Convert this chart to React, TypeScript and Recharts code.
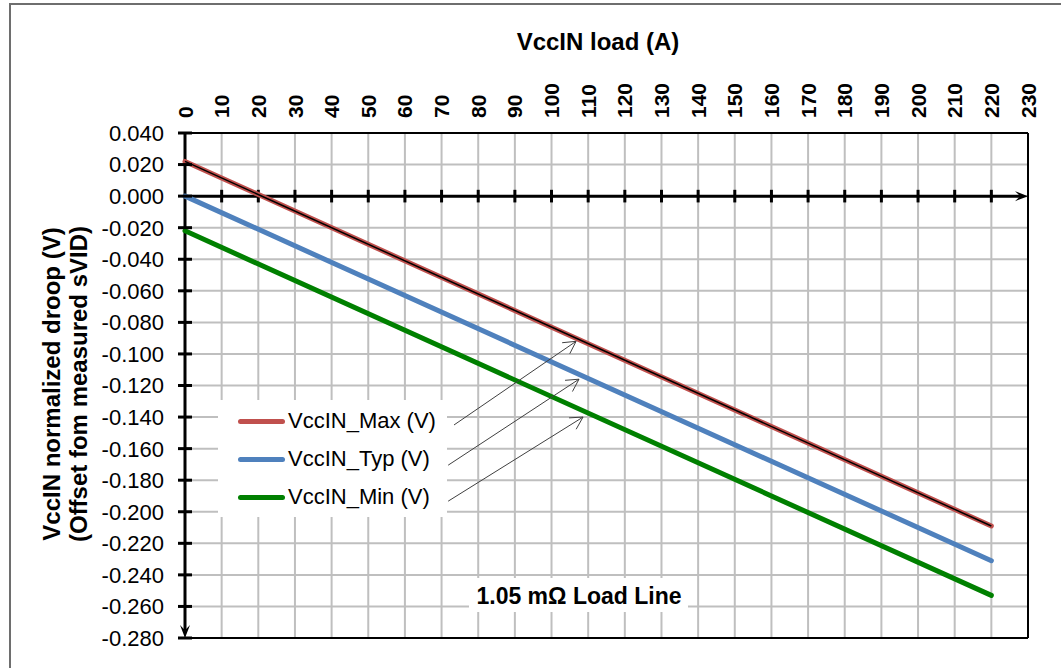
import { LineChart, Line, XAxis, YAxis, CartesianGrid, ReferenceLine, Legend } from "recharts";

const FONT = '"Liberation Sans", Arial, Helvetica, sans-serif';

// load current (A) and normalized droop (V)
const loadA = [0, 220];
const vccMax = [0.022, -0.209];
const vccTyp = [0.0, -0.231];
const vccMin = [-0.022, -0.253];

const xTicks = [0, 10, 20, 30, 40, 50, 60, 70, 80, 90, 100, 110, 120, 130, 140, 150, 160, 170, 180, 190, 200, 210, 220, 230];
const yTicks = [0.04, 0.02, 0, -0.02, -0.04, -0.06, -0.08, -0.1, -0.12, -0.14, -0.16, -0.18, -0.2, -0.22, -0.24, -0.26, -0.28];

const seriesInfo = [
  { key: "max", name: "VccIN_Max (V)", color: "#C0504D" },
  { key: "typ", name: "VccIN_Typ (V)", color: "#4F81BD" },
  { key: "min", name: "VccIN_Min (V)", color: "#008000" },
];

// callout arrows from legend text to each line: [from, to] in (A, V)
const callouts = [
  [[73.4, -0.145], [106.7, -0.092]],
  [[71.8, -0.1705], [107.5, -0.116]],
  [[71.8, -0.1933], [108.6, -0.14]],
];

const data = loadA.map((x, i) => ({ load: x, max: vccMax[i], typ: vccTyp[i], min: vccMin[i] }));

function TopTick(props: any) {
  const { x, y, payload } = props;
  const ty = y - 15;
  return (
    <text x={x} y={ty} dy="0.36em" transform={`rotate(-90 ${x} ${ty})`} textAnchor="start"
      fontSize={21} fontWeight="bold" fontFamily={FONT} fill="#000">
      {payload.value}
    </text>
  );
}

function LeftTick(props: any) {
  const { x, y, payload } = props;
  return (
    <g>
      <line x1={x - 7} x2={x + 7} y1={y} y2={y} stroke="#000" strokeWidth={3} />
      <text x={x - 21} y={y} dy="0.36em" textAnchor="end" fontSize={22} fontFamily={FONT} fill="#000">
        {Number(payload.value).toFixed(3)}
      </text>
    </g>
  );
}

// thick axis line ending in a stealth arrow
function AxisArrow(props: any) {
  const { x1, y1, x2, y2 } = props;
  const L = Math.hypot(x2 - x1, y2 - y1) || 1;
  const ux = (x2 - x1) / L, uy = (y2 - y1) / L;
  const px = -uy, py = ux;
  const len = 13, half = 5;
  const pts = [
    [x2, y2],
    [x2 - ux * len + px * half, y2 - uy * len + py * half],
    [x2 - ux * len * 0.6, y2 - uy * len * 0.6],
    [x2 - ux * len - px * half, y2 - uy * len - py * half],
  ].map((p) => p.join(",")).join(" ");
  return (
    <g>
      <line x1={x1} y1={y1} x2={x2 - ux * len * 0.6} y2={y2 - uy * len * 0.6} stroke="#000" strokeWidth={3} />
      <polygon points={pts} fill="#000" />
    </g>
  );
}

// thin callout with open arrow head
function Callout(props: any) {
  const { x1, y1, x2, y2 } = props;
  const a = Math.atan2(y1 - y2, x1 - x2);
  const arm = 14, spread = 0.5;
  return (
    <g stroke="#404040" strokeWidth={1} fill="none">
      <line x1={x1} y1={y1} x2={x2} y2={y2} />
      <polyline points={`${x2 + arm * Math.cos(a + spread)},${y2 + arm * Math.sin(a + spread)} ${x2},${y2} ${x2 + arm * Math.cos(a - spread)},${y2 + arm * Math.sin(a - spread)}`} />
    </g>
  );
}

function LegendBox() {
  return (
    <div style={{ background: "#fff", width: 229, height: 117, paddingTop: 2, boxSizing: "border-box", fontFamily: FONT, fontSize: 22, color: "#000" }}>
      {seriesInfo.map((s) => (
        <div key={s.key} style={{ display: "flex", alignItems: "center", height: 38 }}>
          <div style={{ marginLeft: 20, width: 47, height: 5, borderRadius: 3, background: s.color }} />
          <span style={{ marginLeft: 3, lineHeight: "22px", whiteSpace: "nowrap" }}>{s.name}</span>
        </div>
      ))}
    </div>
  );
}

export default function App() {
  return (
    <div style={{ position: "absolute", left: 0, top: 0, width: 1061, height: 668, overflow: "hidden", background: "#fff" }}>
      <div style={{ position: "absolute", left: 9, top: 3, width: 1120, height: 720, border: "2px solid #6e6e6e" }} />
      <LineChart width={1061} height={668} data={data} margin={{ top: 132, right: 33, bottom: 30, left: 184 }}>
        <CartesianGrid stroke="#BFBFBF" strokeWidth={2} />
        <XAxis dataKey="load" type="number" orientation="top" domain={[0, 230]} ticks={xTicks} interval={0}
          height={1} tickSize={0} tickMargin={0} axisLine={false} tickLine={false} tick={<TopTick />} />
        <YAxis type="number" domain={[-0.28, 0.04]} ticks={yTicks} interval={0}
          width={1} tickSize={0} tickMargin={0} axisLine={false} tickLine={false} tick={<LeftTick />} />
        <ReferenceLine y={0.04} stroke="#000" strokeWidth={2} ifOverflow="visible" />
        <ReferenceLine y={-0.28} stroke="#000" strokeWidth={2} ifOverflow="visible" />
        <ReferenceLine x={230} stroke="#000" strokeWidth={2} ifOverflow="visible" />
        <ReferenceLine segment={[{ x: 0, y: 0 }, { x: 230, y: 0 }]} ifOverflow="visible" shape={AxisArrow} />
        <ReferenceLine segment={[{ x: 0, y: 0.04 }, { x: 0, y: -0.28 }]} ifOverflow="visible" shape={AxisArrow} />
        {xTicks.slice(1, -1).map((t) => (
          <ReferenceLine key={`zt${t}`} segment={[{ x: t, y: 0.004 }, { x: t, y: -0.004 }]} stroke="#000" strokeWidth={3} ifOverflow="visible" />
        ))}
        <Line type="linear" dataKey="max" name="VccIN_Max (V)" stroke="#C0504D" strokeWidth={5} strokeLinecap="round" dot={false} activeDot={false} isAnimationActive={false} />
        <Line type="linear" dataKey="max" legendType="none" stroke="#000" strokeWidth={1.5} dot={false} activeDot={false} isAnimationActive={false} />
        <Line type="linear" dataKey="typ" name="VccIN_Typ (V)" stroke="#4F81BD" strokeWidth={5} strokeLinecap="round" dot={false} activeDot={false} isAnimationActive={false} />
        <Line type="linear" dataKey="min" name="VccIN_Min (V)" stroke="#008000" strokeWidth={5} strokeLinecap="round" dot={false} activeDot={false} isAnimationActive={false} />
        {callouts.map(([from, to], i) => (
          <ReferenceLine key={`co${i}`} segment={[{ x: from[0], y: from[1] }, { x: to[0], y: to[1] }]} ifOverflow="visible" shape={Callout} />
        ))}
        <Legend layout="vertical" align="center" verticalAlign="middle" content={<LegendBox />}
          wrapperStyle={{ left: 218, top: 400, width: 229, height: 117 }} />
      </LineChart>
      <svg width={1061} height={668} style={{ position: "absolute", left: 0, top: 0, pointerEvents: "none" }} fontFamily={FONT}>
        <text x={598} y={50} textAnchor="middle" fontSize={24} fontWeight="bold" fill="#000">VccIN load (A)</text>
        <text transform="translate(60,384) rotate(-90)" textAnchor="middle" fontSize={24} fontWeight="bold" fill="#000">VccIN normalized droop (V)</text>
        <text transform="translate(87,384) rotate(-90)" textAnchor="middle" fontSize={24} fontWeight="bold" fill="#000">(Offset fom measured sVID)</text>
        <rect x={469} y={578} width={219} height={34} fill="#fff" />
        <text x={579} y={604} textAnchor="middle" fontSize={23} fontWeight="bold" fill="#000">1.05 mΩ Load Line</text>
      </svg>
    </div>
  );
}
